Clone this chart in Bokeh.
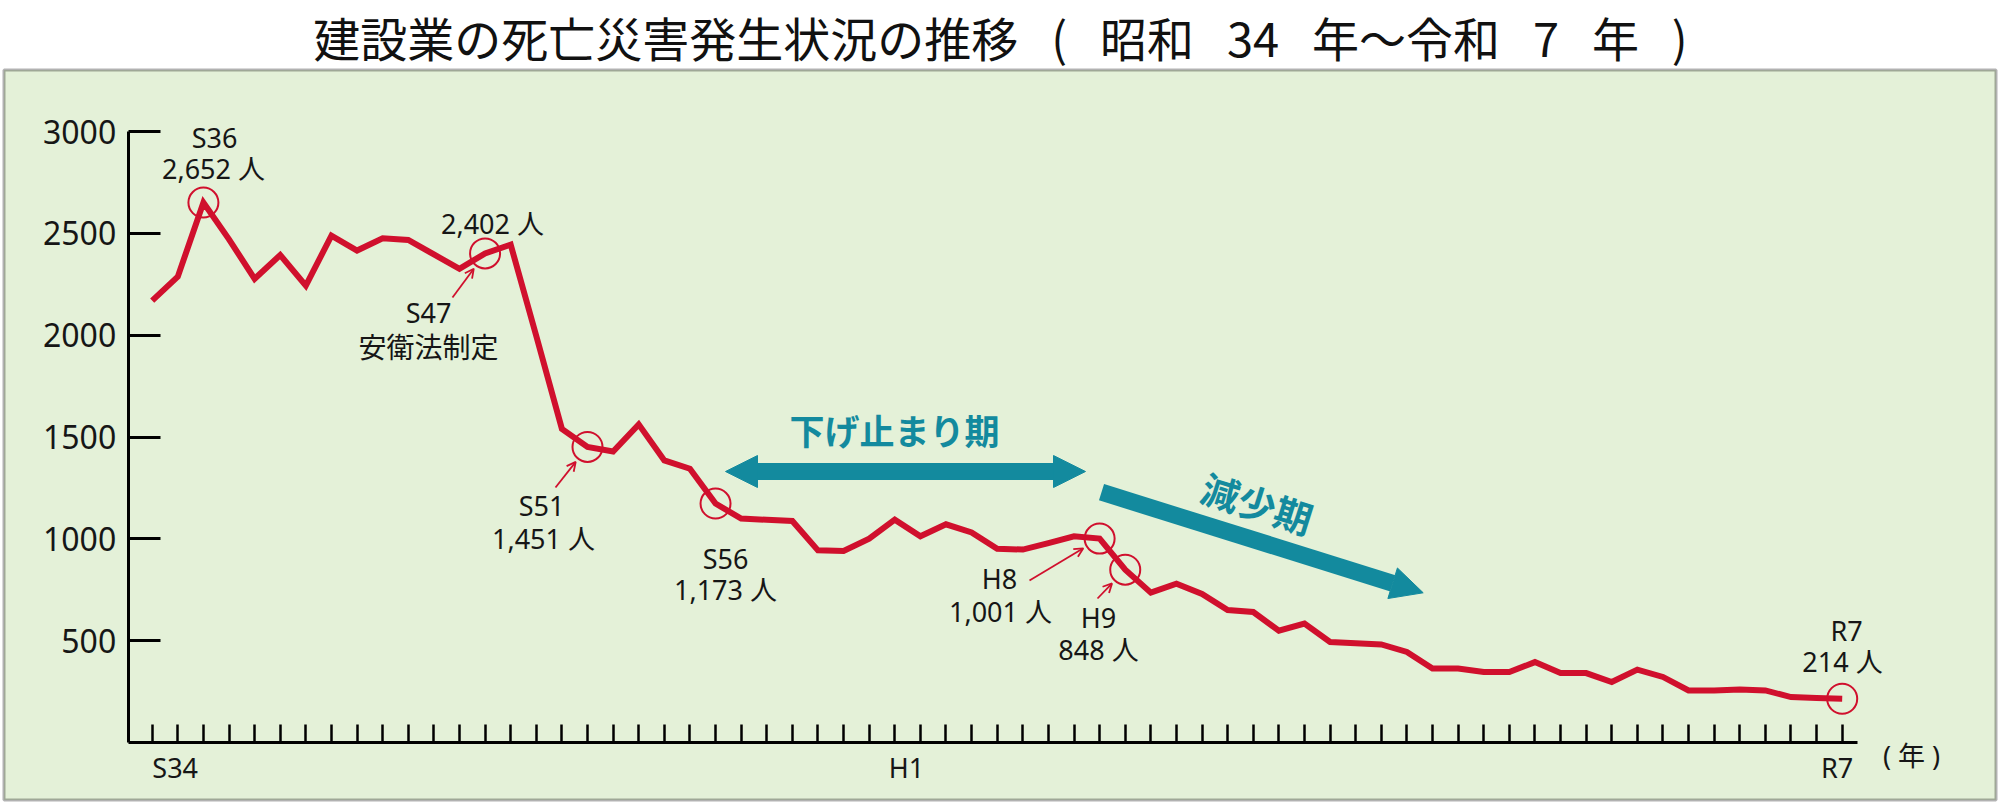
import math
from bokeh.plotting import figure
from bokeh.models import Range1d, LinearAxis, FixedTicker, BoxAnnotation, Arrow, NormalHead, OpenHead
from bokeh.core.properties import value
from bokeh.embed import file_html
from bokeh.resources import INLINE

# ---------------- data ----------------
years = list(range(1959, 2026))
deaths = [2170, 2288, 2652, 2471, 2277, 2394, 2244, 2489, 2416, 2476,
          2468, 2397, 2326, 2402, 2445, 1996, 1540, 1451, 1429, 1562,
          1385, 1344, 1173, 1099, 1093, 1087, 943, 940, 1000, 1094,
          1012, 1071, 1031, 951, 947, 979, 1012, 1001, 848, 735,
          779, 729, 650, 640, 548, 583, 493, 487, 481, 444,
          362, 362, 345, 345, 394, 340, 340, 296, 357, 321,
          255, 255, 260, 255, 222, 218, 214]

hl_years = [1961, 1972, 1976, 1981, 1996, 1997, 2025]
hl_values = [2652, 2402, 1451, 1173, 1001, 848, 214]
hl_era = ["S36", "S47", "S51", "S56", "H8", "H9", "R7"]
hl_text = ["2,652 人", "2,402 人", "1,451 人", "1,173 人", "1,001 人", "848 人", "214 人"]
law_note = "安衛法制定"

x_tick_years = [1959, 1989, 2025]
x_tick_labels = ["S34", "H1", "R7"]
y_ticks = [500, 1000, 1500, 2000, 2500, 3000]

SP = "\u2002\u2009"
title_text = SP.join(["建設業の死亡災害発生状況の推移", "(", "昭和", "34", "年～令和", "7", "年", ")"])
period1 = "下げ止まり期"
period2 = "減少期"
unit_label = "( 年 )"

# ---------------- layout / style ----------------
W, H = 1998, 802
FONT_JP = "Noto Sans CJK JP"
FONT_LAT = "Noto Sans, Noto Sans CJK JP"
RED = "#D0102D"
TEAL = "#138A9E"
GREEN = "#E4F1D8"
INK = "#161616"

# pixel geometry of the reference (page coordinates)
S34_PX, R7_PX = 151.7, 1841.7
BASE_PY, TOP_PY = 741.8, 131.2
PPY = (R7_PX - S34_PX) / (2025 - 1959)
PPU = (BASE_PY - TOP_PY) / 3000.0


def rx2x(px):
    return 1959 + (px - S34_PX) / PPY


def ry2y(py):
    return (BASE_PY - py) / PPU


p = figure(width=W, height=H, output_backend="svg", toolbar_location=None,
           x_range=Range1d(rx2x(0), rx2x(W)),
           y_range=Range1d(ry2y(H), ry2y(0)),
           x_axis_type=None, y_axis_type=None, min_border=0)
p.min_border_left = p.min_border_right = p.min_border_top = p.min_border_bottom = 0
p.background_fill_color = "white"
p.border_fill_color = "white"
p.outline_line_color = None

# green framed panel
p.add_layout(BoxAnnotation(left=rx2x(3.5), right=rx2x(1995.5),
                           top=ry2y(69.5), bottom=ry2y(799.5),
                           fill_color=GREEN, fill_alpha=1.0,
                           line_color="black", line_width=3, level="underlay"))

# ---------------- axes ----------------
AX_X = rx2x(127.7)
yaxis = LinearAxis(fixed_location=AX_X, bounds=(0, 3000), ticker=FixedTicker(ticks=y_ticks))
yaxis.axis_line_width = 3
yaxis.axis_line_color = "black"
yaxis.major_tick_in = 32
yaxis.major_tick_out = 0
yaxis.major_tick_line_width = 3
yaxis.minor_tick_in = 0
yaxis.minor_tick_out = 0
yaxis.major_label_standoff = 12
yaxis.major_label_text_font = FONT_LAT
yaxis.major_label_text_font_size = "32px"
yaxis.major_label_text_color = INK
p.add_layout(yaxis, "left")

xbounds = (AX_X, rx2x(1856.7))
xaxis = LinearAxis(fixed_location=0, bounds=xbounds,
                   ticker=FixedTicker(ticks=[], minor_ticks=years))
xaxis.axis_line_width = 3
xaxis.axis_line_color = "black"
xaxis.major_tick_in = 18
xaxis.major_tick_out = 0
xaxis.minor_tick_in = 18
xaxis.minor_tick_out = 0
xaxis.major_tick_line_width = 2.5
xaxis.minor_tick_line_width = 2.5
xaxis.minor_tick_line_color = "black"
p.add_layout(xaxis, "below")

# era labels under the axis, nudged (pixels) to where the reference prints them
label_nudge = [23, -14, -5]
label_pos = [round(yr + dx / PPY, 3) for yr, dx in zip(x_tick_years, label_nudge)]
xaxis2 = LinearAxis(fixed_location=0, bounds=xbounds, ticker=FixedTicker(ticks=label_pos))
xaxis2.major_label_overrides = dict(zip(label_pos, x_tick_labels))
xaxis2.axis_line_color = None
xaxis2.major_tick_line_color = None
xaxis2.minor_tick_line_color = None
xaxis2.major_label_standoff = 1
xaxis2.major_label_text_font = FONT_LAT
xaxis2.major_label_text_font_size = "27px"
xaxis2.major_label_text_color = INK
p.add_layout(xaxis2, "below")

# ---------------- series ----------------
p.line(years, deaths, line_color=RED, line_width=6, line_join="miter")
p.scatter(hl_years, hl_values, marker="circle", size=30, fill_color=None,
          line_color=RED, line_width=2)

# label placement (page pixels, as printed in the reference)
era_px = [(214, 137), (428, 312), (541, 505), (725, 558), (999, 578), (1098, 617), (1846, 630)]
val_px = [(213, 168), (492, 223), (543, 538), (725, 589), (1000, 611), (1098, 649), (1842, 661)]
note_px = (428, 345)

txt = dict(text_font=value(FONT_LAT), text_font_size=value("27px"), text_color=INK,
           text_align="center", text_baseline="middle")
p.text([rx2x(a) for a, b in era_px], [ry2y(b) for a, b in era_px], text=hl_era, **txt)
p.text([rx2x(a) for a, b in val_px], [ry2y(b) for a, b in val_px], text=hl_text, **txt)
p.text([rx2x(note_px[0])], [ry2y(note_px[1])], text=[law_note], text_font=value(FONT_JP),
       text_font_size=value("28px"), text_color=INK, text_align="center", text_baseline="middle")

# small red pointer arrows (S47, S51, H8, H9): from a label-side start to the circle rim
arrow_start_px = {1: (452, 297), 2: (555, 487), 4: (1029, 580), 5: (1097, 598)}
for i, (sx, sy) in arrow_start_px.items():
    cx = S34_PX + (hl_years[i] - 1959) * PPY
    cy = BASE_PY - hl_values[i] * PPU
    dx, dy = cx - sx, cy - sy
    d = math.hypot(dx, dy)
    ex_, ey_ = cx - 19 * dx / d, cy - 19 * dy / d
    p.add_layout(Arrow(end=OpenHead(size=9, line_color=RED, line_width=1.8),
                       x_start=rx2x(sx), y_start=ry2y(sy), x_end=rx2x(ex_), y_end=ry2y(ey_),
                       line_color=RED, line_width=1.8))


# teal period arrows
def head():
    return NormalHead(size=32, fill_color=TEAL, line_color=TEAL, line_width=1)


p.add_layout(Arrow(start=head(), end=head(),
                   x_start=rx2x(725), y_start=ry2y(471), x_end=rx2x(1085), y_end=ry2y(471),
                   line_color=TEAL, line_width=17))
p.add_layout(Arrow(end=head(),
                   x_start=rx2x(1101), y_start=ry2y(491.7), x_end=rx2x(1422.7), y_end=ry2y(592.3),
                   line_color=TEAL, line_width=17))

ang = -math.atan2(592.3 - 491.7, 1422.7 - 1101)
p.text([rx2x(894)], [ry2y(429)], text=[period1], text_font=value(FONT_JP),
       text_font_size=value("35px"), text_font_style="bold", text_color=TEAL,
       text_align="center", text_baseline="middle")
p.text([rx2x(1257)], [ry2y(502)], text=[period2], text_font=value(FONT_JP),
       text_font_size=value("38px"), text_font_style="bold", text_color=TEAL,
       text_align="center", text_baseline="middle", angle=ang)

# unit label and title
p.text([rx2x(1911)], [ry2y(755)], text=[unit_label], text_font=value(FONT_LAT),
       text_font_size=value("27px"), text_color=INK, text_align="center", text_baseline="middle")
p.text([rx2x(1000)], [ry2y(35.5)], text=[title_text], text_font=value(FONT_JP),
       text_font_size=value("47px"), text_color="#111111", text_align="center",
       text_baseline="middle")

open("out.html", "w").write(file_html(p, INLINE))
